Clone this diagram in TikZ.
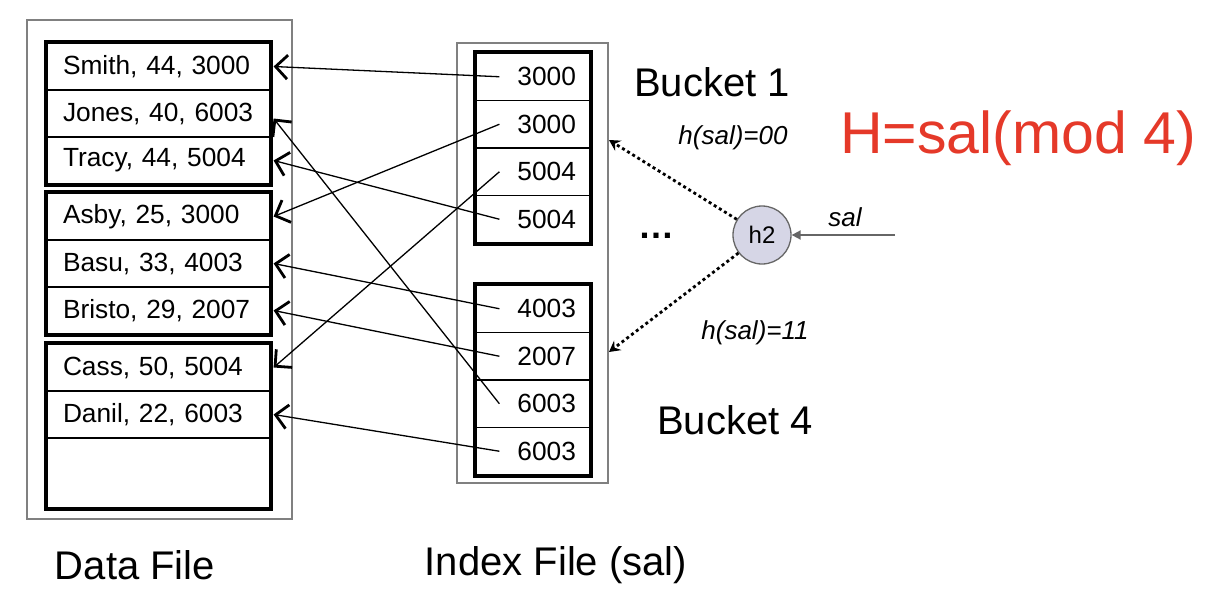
\documentclass[tikz,border=0pt]{standalone}
\usepackage{fontspec}
\setmainfont{Liberation Sans}
\usetikzlibrary{arrows.meta}

\begin{document}
\begin{tikzpicture}[x=1pt,y=-1pt,
    datarow/.style={draw,line width=1.2pt,minimum width=223pt,minimum height=47pt,
        text width=197pt,inner xsep=13pt,align=left,font=\fontsize{26.3}{30}\selectfont},
    idxrow/.style={draw,line width=1.2pt,minimum width=114pt,minimum height=47.5pt,
        text width=86pt,inner xsep=14pt,align=right,font=\fontsize{26.3}{30}\selectfont},
    group/.style={line width=4pt},
    filebox/.style={draw=gray,line width=1.5pt},
    ptr/.style={line width=1.3pt,-{Straight Barb[length=12pt,width=24pt,line width=2.8pt]}},
    hasharrow/.style={line width=2.8pt,dash pattern=on 3pt off 3pt,
        -{Stealth[length=11pt,width=12pt,inset=4pt]}},
    biglabel/.style={font=\fontsize{40}{46}\selectfont},
    hlabel/.style={font=\fontsize{26}{30}\selectfont\itshape}]
    \useasboundingbox (0,0) rectangle (1208,598);

    % File boxes
    \draw[filebox] (27,20) rectangle (292,519);
    \draw[filebox] (457,43) rectangle (608,483);

    % Data file
    \node[datarow] (smith) at (158.5,66.5) {\hspace*{3pt}Smith, 44, 3000};
    \node[datarow] (jones) at (158.5,113.5) {\hspace*{3pt}Jones, 40, 6003};
    \node[datarow] (tracy) at (158.5,160.5) {\hspace*{3pt}Tracy, 44, 5004};
    \node[datarow] (asby) at (158.5,216.5) {\hspace*{3pt}Asby, 25, 3000};
    \node[datarow] (basu) at (158.5,263.5) {\hspace*{3pt}Basu, 33, 4003};
    \node[datarow] (bristo) at (158.5,310.5) {\hspace*{3pt}Bristo, 29, 2007};
    \node[datarow] (cass) at (158.5,367.5) {\hspace*{3pt}Cass, 50, 5004};
    \node[datarow] (danil) at (158.5,414.5) {\hspace*{3pt}Danil, 22, 6003};
    \node[datarow,minimum height=70pt] (empty) at (158.5,473) {};
    \draw[group] (smith.north west) rectangle (tracy.south east);
    \draw[group] (asby.north west) rectangle (bristo.south east);
    \draw[group] (cass.north west) rectangle (empty.south east);

    % Index file
    \node[idxrow] (a1) at (533,76.75) {3000};
    \node[idxrow] (a2) at (533,124.25) {3000};
    \node[idxrow] (a3) at (533,171.75) {5004};
    \node[idxrow] (a4) at (533,219.25) {5004};
    \node[idxrow] (d1) at (533,308.75) {4003};
    \node[idxrow] (d2) at (533,356.25) {2007};
    \node[idxrow] (d3) at (533,403.75) {6003};
    \node[idxrow] (d4) at (533,451.25) {6003};
    \draw[group] (a1.north west) rectangle (a4.south east);
    \draw[group] (d1.north west) rectangle (d4.south east);

    % Pointers
    \draw[ptr] ([xshift=24pt]a1.west) -- ([xshift=3pt]smith.east);
    \draw[ptr] ([xshift=24pt]a2.west) -- ([xshift=3pt]asby.east);
    \draw[ptr] ([xshift=24pt]a3.west) -- ([xshift=3pt]cass.east);
    \draw[ptr] ([xshift=24pt]a4.west) -- ([xshift=3pt]tracy.east);
    \draw[ptr] ([xshift=24pt]d1.west) -- ([xshift=3pt]basu.east);
    \draw[ptr] ([xshift=24pt]d2.west) -- ([xshift=3pt]bristo.east);
    \draw[ptr] ([xshift=24pt]d3.west) -- ([xshift=3pt,yshift=-5pt]jones.east);
    \draw[ptr] ([xshift=24pt]d4.west) -- ([xshift=3pt]danil.east);

    % Hash function
    \node[circle,draw=gray!80!black,line width=1.3pt,fill={rgb,255:red,214;green,214;blue,230},
        minimum size=58pt,inner sep=0pt,font=\fontsize{24}{28}\selectfont] (h2) at (762,235) {h2};
    \coordinate (salin) at (895,235);
    \coordinate (b1in) at (609,140);
    \coordinate (b4in) at (609,352);
    \draw[gray!80!black,line width=1.8pt,-{Triangle[length=9pt,width=9pt]}] (salin) -- (h2);
    \draw[hasharrow] (h2) -- (b1in);
    \draw[hasharrow] (h2) -- (b4in);

    % Labels
    \node[hlabel] (salname) at (845,217) {sal};
    \node[hlabel] (h00) at (733,138) {h(sal)=00};
    \node[hlabel] (h11) at (755,333) {h(sal)=11};
    \node[font=\fontsize{36}{40}\bfseries] (dots) at (656,236) {\dots};
    \node[biglabel] (bucket1) at (712,82) {Bucket 1};
    \node[biglabel] (bucket4) at (735,420) {Bucket 4};
    \node[biglabel] (datafile) at (135,565) {Data File};
    \node[biglabel] (indexfile) at (556,565) {Index File (sal)};
    \node[font=\fontsize{59}{64}\selectfont,text={rgb,255:red,229;green,57;blue,41}] (hfunc) at (1018,138) {H=sal(mod 4)};
\end{tikzpicture}
\end{document}
